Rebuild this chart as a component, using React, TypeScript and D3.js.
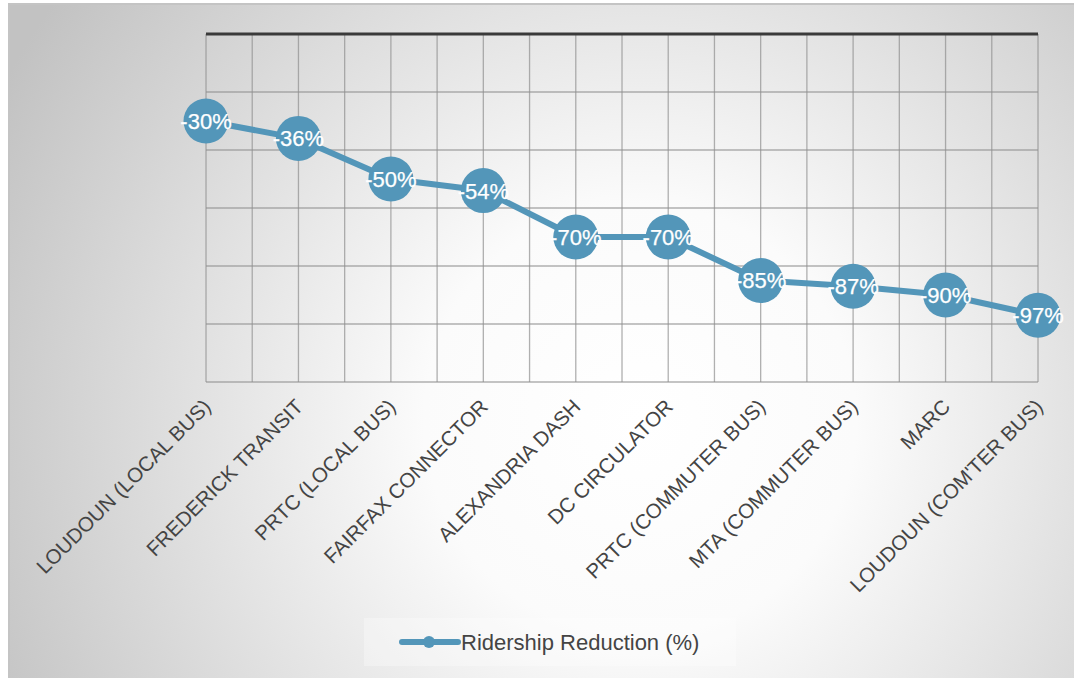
import { useEffect, useRef } from "react";
import * as d3 from "d3";

const categories = [
  "LOUDOUN (LOCAL BUS)",
  "FREDERICK TRANSIT",
  "PRTC (LOCAL BUS)",
  "FAIRFAX CONNECTOR",
  "ALEXANDRIA DASH",
  "DC CIRCULATOR",
  "PRTC (COMMUTER BUS)",
  "MTA (COMMUTER BUS)",
  "MARC",
  "LOUDOUN (COM'TER BUS)",
];
const reductions = [-30, -36, -50, -54, -70, -70, -85, -87, -90, -97];
const yTicks = [0, -20, -40, -60, -80, -100, -120];
const seriesName = "Ridership Reduction (%)";

const W = 1074;
const H = 678;
const margin = { left: 206, right: 36, top: 34, bottom: 296 };
const blue = "#5396b9";
const font = "'Liberation Sans', Arial, sans-serif";

export default function App() {
  const svgRef = useRef<SVGSVGElement>(null);

  useEffect(() => {
    if (!svgRef.current) return;
    const svg = d3.select(svgRef.current);
    svg.selectAll("*").remove();

    const x = d3.scalePoint<string>()
      .domain(categories)
      .range([margin.left, W - margin.right])
      .padding(0);
    const y = d3.scaleLinear()
      .domain([0, -120])
      .range([margin.top, H - margin.bottom]);

    // background card with radial shading
    const defs = svg.append("defs");
    const grad = defs.append("radialGradient")
      .attr("id", "bg")
      .attr("gradientUnits", "userSpaceOnUse")
      .attr("cx", 640).attr("cy", 420).attr("r", 720);
    grad.append("stop").attr("offset", "0%").attr("stop-color", "#ffffff");
    grad.append("stop").attr("offset", "30%").attr("stop-color", "#fbfbfb");
    grad.append("stop").attr("offset", "100%").attr("stop-color", "#c2c2c2");

    svg.append("rect")
      .attr("x", 9).attr("y", 4)
      .attr("width", W).attr("height", H)
      .attr("fill", "url(#bg)")
      .attr("stroke", "#c4c4c4")
      .attr("stroke-width", 2);

    const step = x.step();
    const grid = svg.append("g");

    // vertical grid: category lines and midlines
    const vLines: number[] = [];
    categories.forEach((c, i) => {
      vLines.push(x(c)!);
      if (i < categories.length - 1) vLines.push(x(c)! + step / 2);
    });
    grid.selectAll("line.v")
      .data(vLines)
      .join("line")
      .attr("class", "v")
      .attr("x1", (d) => d).attr("x2", (d) => d)
      .attr("y1", y(0)).attr("y2", y(-120))
      .attr("stroke", "#8f8f8f")
      .attr("stroke-opacity", 0.7)
      .attr("stroke-width", 1.3);

    grid.selectAll("line.h")
      .data(yTicks.filter((t) => t !== 0))
      .join("line")
      .attr("class", "h")
      .attr("x1", margin.left).attr("x2", W - margin.right)
      .attr("y1", (d) => y(d)).attr("y2", (d) => y(d))
      .attr("stroke", "#8f8f8f")
      .attr("stroke-opacity", 0.7)
      .attr("stroke-width", 1.3);

    // zero line at top
    svg.append("line")
      .attr("x1", margin.left).attr("x2", W - margin.right)
      .attr("y1", y(0)).attr("y2", y(0))
      .attr("stroke", "#3a3a3a")
      .attr("stroke-width", 3);

    // category labels
    svg.append("g")
      .selectAll("text")
      .data(categories)
      .join("text")
      .attr("transform", (d) => `translate(${x(d)! + 6},${y(-120) + 26}) rotate(-45)`)
      .attr("text-anchor", "end")
      .style("font-family", font)
      .style("font-size", "20.5px")
      .style("fill", "#444")
      .text((d) => d);

    // series line
    const line = d3.line<number>()
      .x((_, i) => x(categories[i])!)
      .y((d) => y(d));

    svg.append("path")
      .datum(reductions)
      .attr("d", line)
      .attr("fill", "none")
      .attr("stroke", blue)
      .attr("stroke-width", 6)
      .attr("stroke-linejoin", "round");

    const pts = svg.append("g")
      .selectAll("g")
      .data(reductions)
      .join("g")
      .attr("transform", (d, i) => `translate(${x(categories[i])},${y(d)})`);

    pts.append("circle")
      .attr("r", 22.5)
      .attr("fill", blue);

    pts.append("text")
      .attr("text-anchor", "middle")
      .attr("dy", "0.36em")
      .style("font-family", font)
      .style("font-size", "22px")
      .style("fill", "#fff")
      .style("stroke", "#fff")
      .style("stroke-width", 0.25)
      .text((d) => `${d}%`);

    // legend
    const lg = svg.append("g").attr("transform", "translate(402,642)");
    lg.append("rect")
      .attr("x", -38).attr("y", -24)
      .attr("width", 372).attr("height", 48)
      .attr("fill", "#ffffff")
      .attr("fill-opacity", 0.3);
    lg.append("line")
      .attr("x1", 0).attr("x2", 56)
      .attr("stroke", blue)
      .attr("stroke-width", 6)
      .attr("stroke-linecap", "round");
    lg.append("circle").attr("cx", 27).attr("r", 6).attr("fill", blue);
    lg.append("text")
      .attr("x", 59)
      .attr("dy", "0.35em")
      .style("font-family", font)
      .style("font-size", "22px")
      .style("fill", "#444")
      .text(seriesName);
  }, []);

  return (
    <svg
      ref={svgRef}
      width={W}
      height={H}
      style={{ position: "absolute", left: 0, top: 0, display: "block" }}
    />
  );
}
